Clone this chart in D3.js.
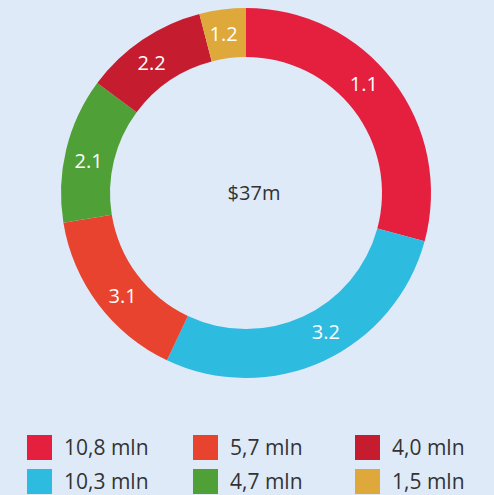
<!DOCTYPE html>
<html>
<head>
<meta charset="utf-8">
<script src="https://cdn.jsdelivr.net/npm/d3@7"></script>
<style>
  html, body { margin: 0; padding: 0; background: #dfeaf8; }
  text { font-family: "Open Sans", sans-serif; }
</style>
</head>
<body>
<div id="chart"></div>
<script>
// data
var values = [10.8, 10.3, 5.7, 4.7, 4.0, 1.5];
var sliceLabels = ["1.1", "3.2", "3.1", "2.1", "2.2", "1.2"];
var legendLabels = ["10,8 mln", "10,3 mln", "5,7 mln", "4,7 mln", "4,0 mln", "1,5 mln"];
var colors = ["#e5203f", "#2dbbe0", "#e8432f", "#50a038", "#c51d2f", "#dea83a"];
var centerText = "$37m";

var svgWidth = 494;
var svgHeight = 495;

var svg = d3.select("#chart")
  .append("svg")
  .attr("width", svgWidth)
  .attr("height", svgHeight);

var outerR = 185;
var innerR = 136;

var donut = svg.append("g")
  .attr("transform", "translate(246, 193)");

var pie = d3.pie().sort(null).value(d => d);
var arcs = pie(values);

var arc = d3.arc()
  .innerRadius(innerR)
  .outerRadius(outerR);

donut.selectAll("path")
  .data(arcs)
  .enter()
  .append("path")
  .attr("d", arc)
  .attr("fill", (d, i) => colors[i]);

// slice labels, sitting a little before the middle of each slice
var labelR = (innerR + outerR) / 2;
donut.selectAll(".sliceLabel")
  .data(arcs)
  .enter()
  .append("text")
  .attr("class", "sliceLabel")
  .attr("x", d => Math.sin(d.startAngle + 0.45 * (d.endAngle - d.startAngle)) * labelR)
  .attr("y", d => -Math.cos(d.startAngle + 0.45 * (d.endAngle - d.startAngle)) * labelR)
  .attr("dy", "0.35em")
  .attr("text-anchor", "middle")
  .attr("fill", "#fff")
  .attr("font-size", 20)
  .text((d, i) => sliceLabels[i]);

donut.append("text")
  .attr("x", 8)
  .attr("dy", "0.35em")
  .attr("text-anchor", "middle")
  .attr("fill", "#333")
  .attr("font-size", 20)
  .text(centerText);

// legend: 3 columns, 2 rows, filled down columns
var colX = [27, 193, 355];
var rowY = [435, 469];

var legend = svg.selectAll(".legendItem")
  .data(legendLabels)
  .enter()
  .append("g")
  .attr("class", "legendItem")
  .attr("transform", (d, i) => `translate(${colX[Math.floor(i / 2)]}, ${rowY[i % 2]})`);

legend.append("rect")
  .attr("width", 25)
  .attr("height", 25)
  .attr("fill", (d, i) => colors[i]);

legend.append("text")
  .attr("x", 37)
  .attr("y", 12.5)
  .attr("dy", "0.35em")
  .attr("fill", "#333")
  .attr("font-size", 21)
  .text(d => d);
</script>
</body>
</html>
